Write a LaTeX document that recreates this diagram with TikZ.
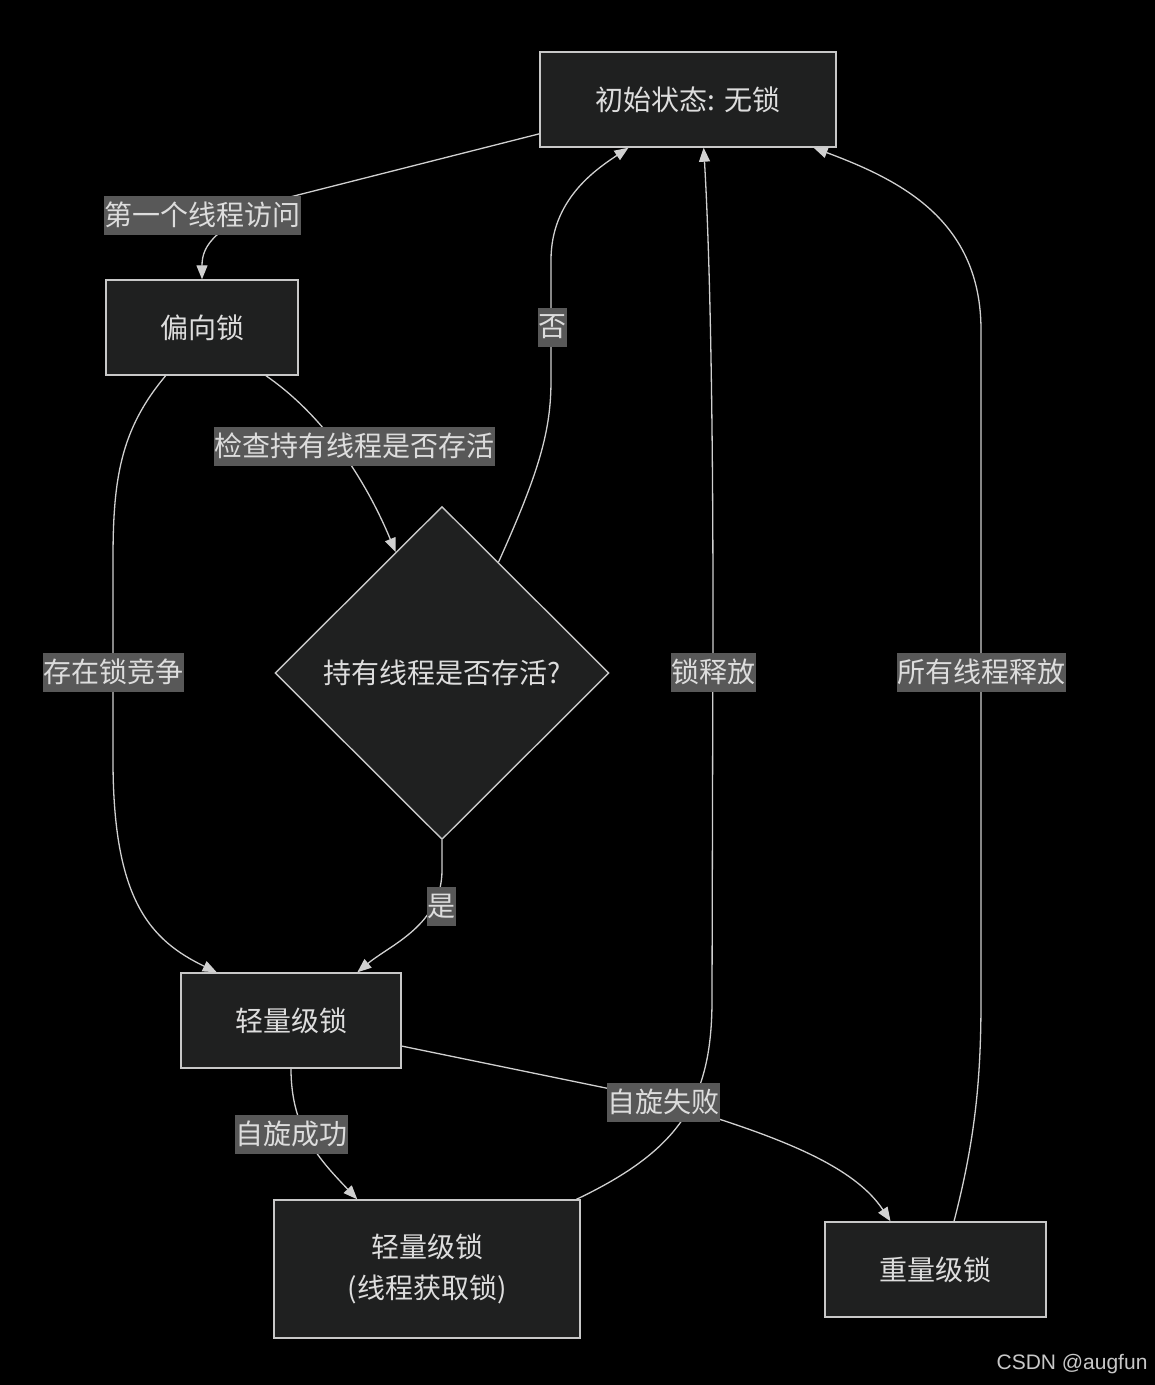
\documentclass[tikz,border=0pt]{standalone}
\usepackage{fontspec}
\setmainfont{Noto Sans CJK SC}
\newfontfamily\wmfont{Liberation Sans}
\usetikzlibrary{shapes.geometric,arrows.meta}
\definecolor{nodefill}{HTML}{1F2020}
\definecolor{nodeline}{HTML}{C8C8C8}
\definecolor{edgecol}{HTML}{D0D0D0}
\definecolor{lblbg}{HTML}{585858}
\definecolor{txtcol}{HTML}{DDDDDD}
\begin{document}
\begin{tikzpicture}[x=1pt,y=-1pt,
  every node/.style={font=\fontsize{28}{34}\selectfont, text=txtcol},
  box/.style={draw=nodeline, line width=1.4pt, fill=nodefill, inner sep=0pt, align=center},
  decision/.style={diamond, draw=nodeline, line width=1.4pt, fill=nodefill, inner sep=0pt, minimum width=334pt, minimum height=333pt},
  lbl/.style={fill=lblbg, inner xsep=0.5pt, inner ysep=0pt, minimum height=39pt},
  edge/.style={draw=edgecol, line width=1.3pt, -{Triangle[length=14pt,width=11pt]}}]
\fill[black] (0,0) rectangle (1155,1385);
\useasboundingbox (0,0) rectangle (1155,1385);

% nodes
\node[box, minimum width=296pt, minimum height=95pt] (start) at (688,99.5) {初始状态: 无锁};
\node[box, minimum width=192pt, minimum height=95pt] (biased) at (202,327.5) {偏向锁};
\node[decision] (check) at (442,673) {持有线程是否存活?};
\node[box, minimum width=220pt, minimum height=95pt] (light) at (291,1020.5) {轻量级锁};
\node[box, minimum width=306pt, minimum height=138pt, font=\fontsize{28}{41}\selectfont] (acq) at (427,1269) {轻量级锁\\(线程获取锁)};
\node[box, minimum width=221pt, minimum height=95pt] (heavy) at (935.5,1269.5) {重量级锁};

% edges
\draw[edge] (start.193.5) -- (290,197) .. controls (215,225) and (202,245) .. (biased.north);
\draw[edge] (biased.-37.6) .. controls (330,420) and (370,490) .. (check.111.4);
\draw[edge] (check.63.7) .. controls (540,470) and (551,430) .. (551,380) -- (551,260) .. controls (551,200) and (595,170) .. (start.219.9);
\draw[edge] (check.south) -- (442,870) .. controls (442,925) and (390,945) .. (light.36.6);
\draw[edge] (biased.-127.3) .. controls (120,430) and (113,480) .. (113,560) -- (113,760) .. controls (113,900) and (150,940) .. (light.147.5);
\draw[edge] (light.south) .. controls (291,1130) and (320,1160) .. (acq.135.4);
\draw[edge] (light.-13.05) -- (640,1095) .. controls (760,1130) and (850,1160) .. (heavy.133.8);
\draw[edge] (acq.25.5) .. controls (680,1150) and (712,1100) .. (712,1000) -- (713,620) .. controls (713,350) and (708,220) .. (start.-72.8);
\draw[edge] (heavy.69.8) .. controls (975,1140) and (981,1080) .. (981,1000) -- (981,330) .. controls (981,220) and (900,180) .. (start.-21.05);

% edge labels
\node[lbl] (l1) at (202,215) {第一个线程访问};
\node[lbl] (l2) at (354,446) {检查持有线程是否存活};
\node[lbl] (l3) at (552,327) {否};
\node[lbl] (l4) at (441,906) {是};
\node[lbl] (l5) at (113,672) {存在锁竞争};
\node[lbl] (l6) at (291,1134) {自旋成功};
\node[lbl] (l7) at (663,1102) {自旋失败};
\node[lbl] (l8) at (713,672) {锁释放};
\node[lbl] (l9) at (981,672) {所有线程释放};

% watermark
\node[font=\wmfont\fontsize{21}{24}\selectfont, text=nodeline, anchor=east] (wm) at (1151,1364) {CSDN @augfun};
\end{tikzpicture}
\end{document}
